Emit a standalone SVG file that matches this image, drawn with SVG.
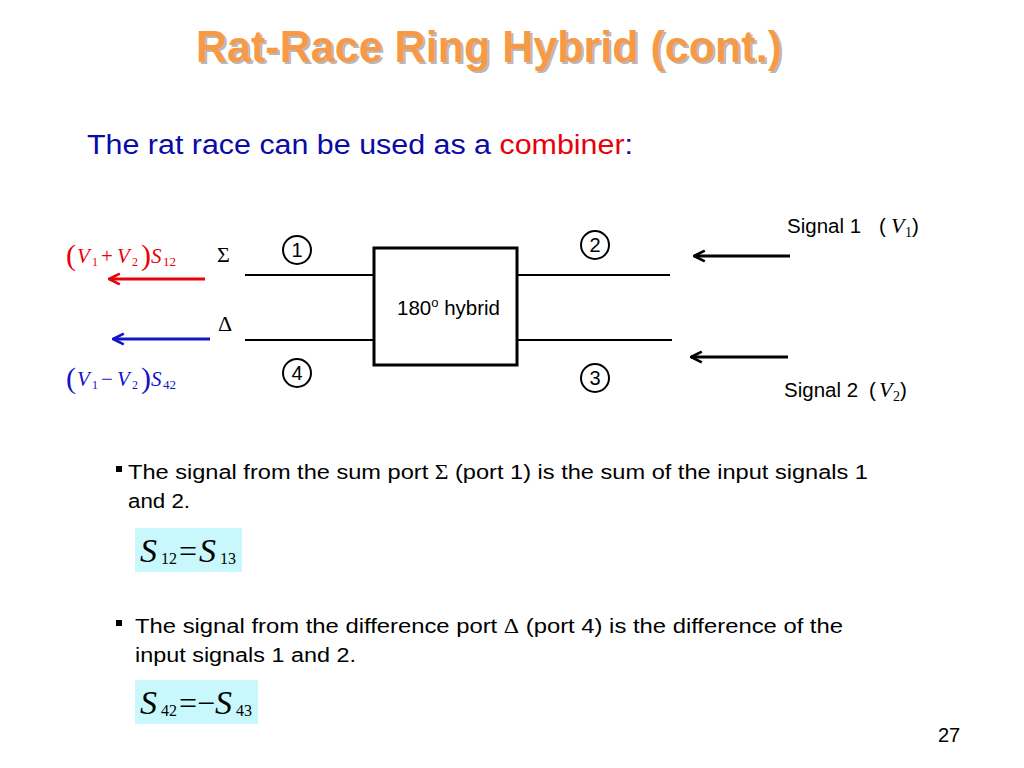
<svg xmlns="http://www.w3.org/2000/svg" width="1024" height="768" viewBox="0 0 1024 768">
<defs>
<style>
.sans{font-family:"Liberation Sans","Open Sans",sans-serif}
.math{font-family:"Liberation Serif",serif}
.it{font-style:italic}
.line{stroke:#000;stroke-width:2;fill:none}
.circ{fill:#fff;stroke:#000;stroke-width:2}
.num{font-family:"Liberation Sans",sans-serif;font-size:20px;text-anchor:middle}
.eq{fill:#C8F8FC}
</style>
<marker id="ak" viewBox="0 0 10 10" refX="9" refY="5" markerWidth="4.5" markerHeight="4.5" orient="auto" markerUnits="strokeWidth"><path d="M1,1 L9,5 L1,9" fill="none" stroke="#000" stroke-width="2"/></marker>
<marker id="ar" viewBox="0 0 10 10" refX="9" refY="5" markerWidth="4.5" markerHeight="4.5" orient="auto" markerUnits="strokeWidth"><path d="M1,1 L9,5 L1,9" fill="none" stroke="#E8000B" stroke-width="2"/></marker>
<marker id="ab" viewBox="0 0 10 10" refX="9" refY="5" markerWidth="4.5" markerHeight="4.5" orient="auto" markerUnits="strokeWidth"><path d="M1,1 L9,5 L1,9" fill="none" stroke="#1414C8" stroke-width="2"/></marker>
</defs>
<rect width="1024" height="768" fill="#fff"/>

<g id="title">
<text x="489" y="62" text-anchor="middle" class="sans" font-size="44" font-weight="bold" fill="#B8B8B8" textLength="586" lengthAdjust="spacingAndGlyphs" transform="translate(2,2)">Rat-Race Ring Hybrid (cont.)</text>
<text x="489" y="62" text-anchor="middle" class="sans" font-size="44" font-weight="bold" fill="#F79A48" textLength="586" lengthAdjust="spacingAndGlyphs">Rat-Race Ring Hybrid (cont.)</text>
</g>

<g id="subtitle">
<text x="87" y="154" class="sans" font-size="27" fill="#0A0AA6" textLength="546" lengthAdjust="spacingAndGlyphs">The rat race can be used as a <tspan fill="#E8000B">combiner</tspan>:</text>
</g>

<g id="connectors">
<line class="line" x1="245" y1="275" x2="374" y2="275"/>
<line class="line" x1="245" y1="340" x2="374" y2="340"/>
<line class="line" x1="517" y1="275" x2="670" y2="275"/>
<line class="line" x1="517" y1="340" x2="672" y2="340"/>
<line x1="205" y1="279" x2="109" y2="279" stroke="#E8000B" stroke-width="3" marker-end="url(#ar)"/>
<line x1="210" y1="339" x2="113" y2="339" stroke="#1414C8" stroke-width="3" marker-end="url(#ab)"/>
<line x1="790" y1="256" x2="694" y2="256" stroke="#000" stroke-width="3" marker-end="url(#ak)"/>
<line x1="788" y1="357" x2="691" y2="357" stroke="#000" stroke-width="3" marker-end="url(#ak)"/>
</g>

<g id="hybrid">
<rect x="374" y="248" width="143" height="117" fill="#fff" stroke="#000" stroke-width="3"/>
<text x="397" y="315" class="sans" font-size="20.5">180<tspan font-size="13" dy="-8">o</tspan><tspan dy="8"> hybrid</tspan></text>
</g>

<g id="port1"><circle class="circ" cx="297" cy="250" r="14"/><text class="num" x="297" y="257">1</text></g>
<g id="port4"><circle class="circ" cx="297" cy="373" r="14"/><text class="num" x="297" y="380">4</text></g>
<g id="port2"><circle class="circ" cx="595" cy="245" r="14"/><text class="num" x="595" y="252">2</text></g>
<g id="port3"><circle class="circ" cx="595" cy="378" r="14"/><text class="num" x="595" y="385">3</text></g>

<g id="sigma"><text x="217" y="262" class="math" font-size="22">Σ</text></g>
<g id="delta"><text x="218" y="331" class="math" font-size="22">Δ</text></g>

<g id="sum-out" class="math" fill="#E8000B">
<text x="66" y="265" font-size="30">(</text>
<text x="77" y="263" font-size="21" class="it">V</text>
<text x="92" y="266" font-size="12">1</text>
<text x="101" y="263" font-size="21">+</text>
<text x="117" y="263" font-size="21" class="it">V</text>
<text x="132" y="266" font-size="12">2</text>
<text x="141" y="265" font-size="30">)</text>
<text x="151" y="263" font-size="21" class="it">S</text>
<text x="163" y="266" font-size="13">12</text>
</g>
<g id="diff-out" class="math" fill="#1414C8">
<text x="66" y="388" font-size="30">(</text>
<text x="77" y="386" font-size="21" class="it">V</text>
<text x="92" y="389" font-size="12">1</text>
<text x="101" y="386" font-size="21">−</text>
<text x="117" y="386" font-size="21" class="it">V</text>
<text x="132" y="389" font-size="12">2</text>
<text x="141" y="388" font-size="30">)</text>
<text x="151" y="386" font-size="21" class="it">S</text>
<text x="163" y="389" font-size="13">42</text>
</g>

<g id="signal1" font-size="20.5">
<text x="787" y="233" class="sans">Signal 1</text>
<text x="879" y="233" class="sans">(</text>
<text x="891" y="233" class="math it" font-size="22">V</text>
<text x="905" y="237" class="math" font-size="14">1</text>
<text x="912" y="233" class="sans">)</text>
</g>
<g id="signal2" font-size="20.5">
<text x="784" y="397" class="sans">Signal 2</text>
<text x="869" y="397" class="sans">(</text>
<text x="879" y="397" class="math it" font-size="22">V</text>
<text x="893" y="401" class="math" font-size="14">2</text>
<text x="900" y="397" class="sans">)</text>
</g>

<g id="bullet1">
<rect x="116" y="466" width="6" height="6" fill="#000"/>
<text x="128" y="479" class="sans" font-size="20" textLength="740" lengthAdjust="spacingAndGlyphs">The signal from the sum port <tspan class="math">Σ</tspan> (port 1) is the sum of the input signals 1</text>
<text x="128" y="508" class="sans" font-size="20" textLength="62" lengthAdjust="spacingAndGlyphs">and 2.</text>
<rect class="eq" x="135" y="528" width="107" height="44"/>
<g class="math">
<text x="140" y="562" font-size="34" class="it">S</text>
<text x="161" y="564" font-size="16">12</text>
<text x="179" y="562" font-size="32">=</text>
<text x="199" y="562" font-size="34" class="it">S</text>
<text x="220" y="564" font-size="16">13</text>
</g>
</g>

<g id="bullet2">
<rect x="116" y="620" width="6" height="6" fill="#000"/>
<text x="135" y="633" class="sans" font-size="20" textLength="708" lengthAdjust="spacingAndGlyphs">The signal from the difference port <tspan class="math">Δ</tspan> (port 4) is the difference of the</text>
<text x="135" y="662" class="sans" font-size="20" textLength="221" lengthAdjust="spacingAndGlyphs">input signals 1 and 2.</text>
<rect class="eq" x="135" y="680" width="123" height="44"/>
<g class="math">
<text x="140" y="714" font-size="34" class="it">S</text>
<text x="161" y="716" font-size="16">42</text>
<text x="179" y="714" font-size="32">=</text>
<text x="197" y="714" font-size="32">−</text>
<text x="215" y="714" font-size="34" class="it">S</text>
<text x="236" y="716" font-size="16">43</text>
</g>
</g>

<g id="page"><text x="938" y="742" font-family="Liberation Sans,sans-serif" font-size="20">27</text></g>
</svg>
